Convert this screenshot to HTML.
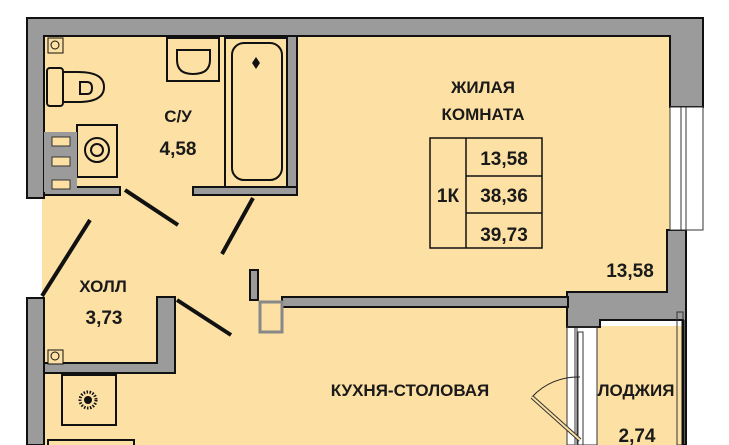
<!DOCTYPE html>
<html><head><meta charset="utf-8"><style>
html,body{margin:0;padding:0;background:#fff;width:729px;height:445px;overflow:hidden}
text{font-family:"Liberation Sans","DejaVu Sans",sans-serif;font-weight:bold;fill:#1a1a1a}
</style></head><body>
<svg width="729" height="445" viewBox="0 0 729 445" xmlns="http://www.w3.org/2000/svg">
<path d="M42 36 H670 V292 H567 V445 H42 Z" fill="#fde0a3"/>
<rect x="597" y="326" width="86" height="119" fill="#fde0a3"/>
<rect x="0" y="198" width="41" height="100" fill="#fff"/>
<g fill="#9b9b9b" stroke="#111" stroke-width="2">
<path d="M27 18 H703 V107 H670 V36 H44 V198 H27 Z"/>
<path d="M27 298 H44 V445 H27 Z"/>
<path d="M670 230 H686 V445 H683 V320 H600 V327 H567 V292 H667 V230 Z"/>
<rect x="287" y="36" width="10" height="156"/>
<rect x="44" y="187" width="76" height="8"/>
<rect x="193" y="187" width="104" height="8"/>
<path d="M44 363 H157 V297 H175 V373 H44 Z"/>
<rect x="282" y="297" width="286" height="10"/>
<rect x="250" y="270" width="8" height="30"/>
</g>
<rect x="670" y="107" width="33" height="123" fill="#fff" stroke="#333" stroke-width="1"/>
<rect x="681" y="107" width="5" height="123" fill="#fff" stroke="#333" stroke-width="1"/>
<g stroke="#333" stroke-width="1" fill="none">
<rect x="567" y="327" width="8" height="118"/>
<rect x="577" y="327" width="20" height="118"/>
<rect x="578" y="332" width="5" height="113"/>
<rect x="677" y="312" width="6" height="133"/>
</g>
<line x1="683" y1="320" x2="683" y2="445" stroke="#111" stroke-width="3"/>
<path d="M532 397 A62 62 0 0 1 580 377" stroke="#222" fill="none"/>
<line x1="532" y1="397" x2="580" y2="440" stroke="#333" stroke-width="4"/>
<line x1="532" y1="397" x2="580" y2="440" stroke="#fde0a3" stroke-width="2"/>
<rect x="260" y="302" width="22" height="30" fill="#fde0a3" stroke="#888" stroke-width="3"/>
<g stroke="#111" stroke-width="2" fill="#fde0a3">
<rect x="167" y="38" width="52" height="43"/>
<path d="M177 50 H210 V60 Q210 74 193 74 Q177 74 177 60 Z"/>
<rect x="225" y="38" width="62" height="149" fill="none"/>
<rect x="232" y="43" width="50" height="137" rx="12"/>
<rect x="47" y="68" width="16" height="38" rx="3"/>
<path d="M63 72 H78 Q104 72 104 87 Q104 102 78 102 H63 Z"/>
<rect x="77" y="125" width="40" height="52"/>
<rect x="48" y="38" width="15" height="15" stroke-width="1"/>
<rect x="48" y="350" width="15" height="14" stroke-width="1"/>
<rect x="62" y="375" width="54" height="50"/>
<rect x="48" y="440" width="86" height="10"/>
</g>
<path d="M80 82 H87 Q92 82 92 88 Q92 94 87 94 H80 Z" fill="none" stroke="#111" stroke-width="2"/>
<rect x="44" y="132" width="33" height="60" fill="#9b9b9b"/>
<g fill="#fde0a3" stroke="#333" stroke-width="1">
<rect x="52" y="137" width="18" height="9"/><rect x="52" y="157" width="18" height="9"/><rect x="52" y="180" width="18" height="9"/>
</g>
<circle cx="97" cy="150" r="12" fill="none" stroke="#111" stroke-width="2"/>
<circle cx="97" cy="150" r="6" fill="none" stroke="#111" stroke-width="2"/>
<circle cx="55" cy="45" r="4" fill="none" stroke="#111"/>
<circle cx="55" cy="356" r="4" fill="none" stroke="#111"/>
<path d="M256 57 l4 6 l-4 6 l-4 -6 Z" fill="#111"/>
<circle cx="88" cy="400" r="8" fill="none" stroke="#111" stroke-width="3" stroke-dasharray="1.5 1.5"/>
<circle cx="88" cy="400" r="4" fill="#111"/>
<g stroke="#111" stroke-width="4">
<line x1="125" y1="190" x2="178" y2="225"/>
<line x1="253" y1="198" x2="222" y2="254"/>
<line x1="42" y1="296" x2="90" y2="220"/>
<line x1="177" y1="300" x2="231" y2="335"/>
</g>
<g stroke="#111" stroke-width="1.5" fill="none">
<rect x="430" y="138" width="112" height="110"/>
<line x1="466" y1="138" x2="466" y2="248"/>
<line x1="466" y1="176" x2="542" y2="176"/>
<line x1="466" y1="213" x2="542" y2="213"/>
</g>
<g font-size="17" text-anchor="middle">
<text x="483" y="93">ЖИЛАЯ</text>
<text x="483" y="120">КОМНАТА</text>
<text x="178" y="122">С/У</text>
<text x="103" y="292">ХОЛЛ</text>
<text x="410" y="396">КУХНЯ-СТОЛОВАЯ</text>
<text x="636" y="396">ЛОДЖИЯ</text>
</g>
<g font-size="19" text-anchor="middle">
<text x="178" y="155">4,58</text>
<text x="104" y="324">3,73</text>
<text x="504" y="165">13,58</text>
<text x="504" y="202">38,36</text>
<text x="504" y="241">39,73</text>
<text x="448" y="202">1К</text>
<text x="630" y="277">13,58</text>
<text x="637" y="442">2,74</text>
</g>
</svg>
</body></html>
